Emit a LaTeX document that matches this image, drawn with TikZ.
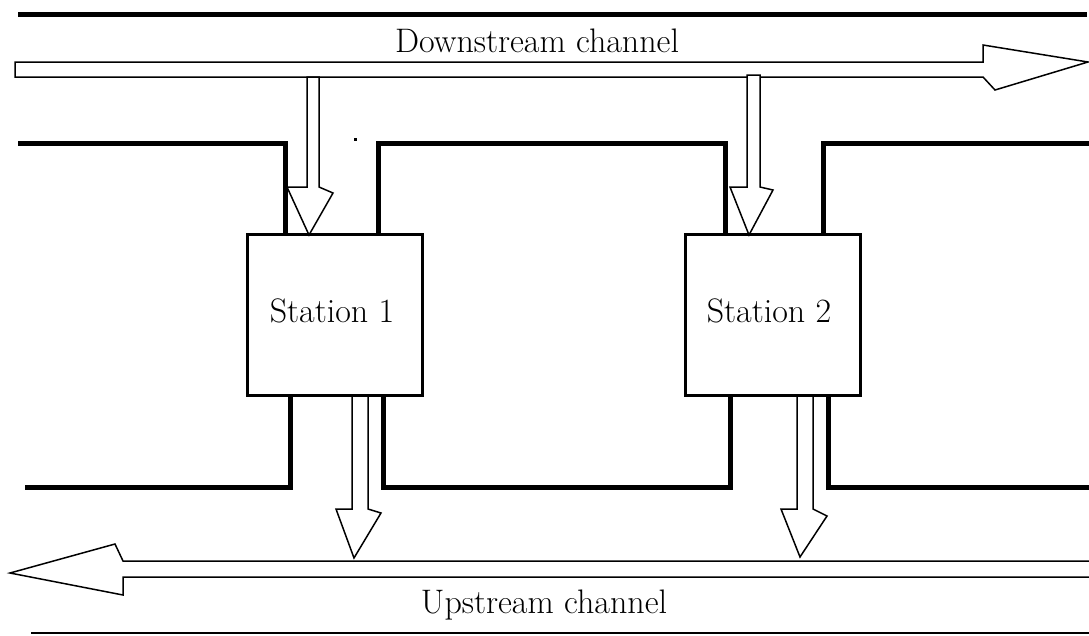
\documentclass[tikz,border=0pt]{standalone}
\begin{document}
\begin{tikzpicture}[x=1pt,y=-1pt,
  bus/.style={line width=5pt,line join=miter,line cap=butt},
  blockarrow/.style={draw=black,fill=white,line width=1.5pt,line join=miter},
  station/.style={draw=black,line width=2pt,fill=white,minimum width=174pt,minimum height=160pt,inner sep=0pt,font=\fontsize{34}{40}\selectfont},
  lbl/.style={font=\fontsize{34}{40}\selectfont,inner sep=0pt,anchor=base}]
\useasboundingbox (0,0) rectangle (1089,635);
% top and bottom rules
\draw[line width=5pt] (18,14) -- (1087,14);
\draw[line width=1.5pt] (31,633) -- (1089,633);
% downstream channel arrow
\draw[blockarrow] (15,62) -- (983,62) -- (983,45) -- (1088,62) -- (995,90) -- (983,77) -- (15,77) -- cycle;
\node[lbl] (down) at (537,52) {Downstream channel};
% upstream channel arrow
\draw[blockarrow] (1090,561) -- (123,561) -- (115,544) -- (10,573) -- (123,595) -- (123,577) -- (1090,577);
\node[lbl] (up) at (544,613) {Upstream channel};
% stations
\node[station] (s1) at (335,315) {};
\node[station] (s2) at (772.5,315) {};
\node[lbl] (t1) at (332,322) {Station 1};
\node[lbl] (t2) at (769,322) {Station 2};
% bus segments top
\draw[bus] (18,143) -- (285,143) -- (285,235);
\draw[bus] (378,235) -- (378,143) -- (725,143) -- (725,235);
\draw[bus] (823,235) -- (823,143) -- (1089,143);
% bus segments bottom
\draw[bus] (25,487) -- (290,487) -- (290,395);
\draw[bus] (383,395) -- (383,487) -- (730,487) -- (730,395);
\draw[bus] (828,395) -- (828,487) -- (1089,487);
% redraw station borders above bus
\draw[line width=2pt] (s1.south west) rectangle (s1.north east);
\draw[line width=2pt] (s2.south west) rectangle (s2.north east);
% down arrows into stations
\draw[blockarrow] (307,77) -- (319,77) -- (319,187) -- (333,193) -- (309,235) -- (287,187) -- (307,187) -- cycle;
\draw[blockarrow] (747,75) -- (760,75) -- (760,187) -- (773,190) -- (749,235) -- (730,187) -- (747,187) -- cycle;
% up arrows out of stations
\draw[blockarrow] (352,396) -- (368,396) -- (368,509) -- (381,513) -- (354,558) -- (336,509) -- (352,509) -- cycle;
\draw[blockarrow] (797,396) -- (813,396) -- (813,509) -- (827,516) -- (800,557) -- (781,509) -- (797,509) -- cycle;
% small dot
\fill (354,138) rectangle (357,141);
\end{tikzpicture}
\end{document}
